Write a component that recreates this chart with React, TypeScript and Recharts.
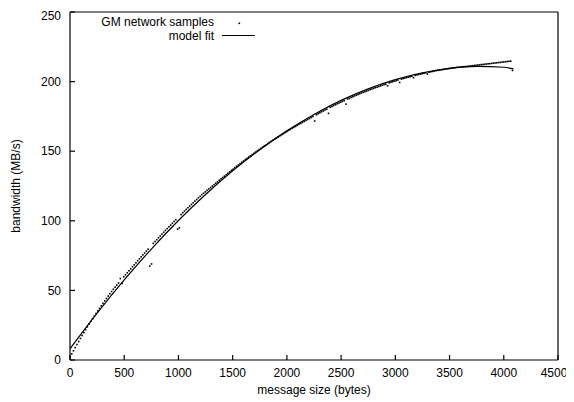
import { ComposedChart, XAxis, YAxis, Scatter, Line } from "recharts";

// GM samples are taken every 16 bytes, starting at 0
const sampleStep = 16;

const sampleBandwidth = [
  2.0, 4.3, 6.6, 8.9, 11.1, 13.3, 15.5, 17.6, 19.7, 21.8, 23.8, 25.8, 27.7, 29.6, 31.5, 33.4,
  35.3, 37.1, 38.9, 40.7, 42.5, 44.2, 45.9, 47.6, 49.2, 50.8, 52.3, 53.8, 55.3, 58.5, 55.0, 59.8,
  61.2, 62.7, 64.1, 65.5, 67.0, 68.4, 69.8, 71.3, 72.7, 74.1, 75.5, 76.9, 78.3, 79.6, 67.5, 69.0,
  83.8, 85.1, 86.4, 87.8, 89.1, 90.4, 91.8, 93.1, 94.4, 95.7, 96.9, 98.2, 99.5, 100.8, 94.0, 95.0,
  104.5, 105.8, 107.0, 108.2, 109.4, 110.6, 111.8, 113.0, 114.2, 115.3, 116.5, 117.6, 118.8, 119.8, 120.8, 121.9,
  122.9, 123.9, 125.0, 126.0, 127.0, 128.0, 129.1, 130.1, 131.1, 132.1, 133.1, 134.2, 135.2, 136.2, 137.1, 138.2,
  139.2, 140.1, 141.1, 142.1, 143.0, 144.0, 144.9, 145.8, 146.7, 147.6, 148.5, 149.4, 150.3, 151.2, 152.0, 152.9,
  153.8, 154.6, 155.5, 156.3, 157.1, 157.9, 158.7, 159.5, 160.3, 161.1, 161.9, 162.6, 163.4, 164.1, 164.9, 165.6,
  166.4, 167.1, 167.8, 168.5, 169.3, 170.0, 170.7, 171.4, 172.1, 172.8, 173.5, 174.2, 174.9, 171.7, 176.2, 176.9,
  177.6, 178.3, 178.9, 179.6, 180.2, 177.2, 181.5, 182.1, 182.8, 183.4, 184.0, 184.6, 185.2, 185.8, 186.3, 183.8,
  187.5, 188.0, 188.6, 189.1, 189.7, 190.2, 190.7, 191.3, 191.8, 192.3, 192.8, 193.2, 193.7, 194.2, 194.7, 195.1,
  195.6, 196.0, 196.5, 196.9, 197.4, 197.8, 198.2, 197.0, 199.1, 199.5, 199.9, 200.3, 200.7, 201.1, 199.4, 201.8,
  202.2, 202.5, 202.9, 203.2, 203.5, 203.9, 202.8, 204.5, 204.8, 205.1, 205.4, 205.7, 206.0, 206.3, 205.4, 206.8,
  207.1, 207.3, 207.6, 207.9, 208.1, 208.3, 208.5, 208.7, 208.9, 209.1, 209.3, 209.5, 209.7, 209.8, 210.0, 210.2,
  210.3, 210.4, 210.6, 210.7, 210.8, 211.0, 211.1, 211.3, 211.4, 211.6, 211.7, 211.9, 212.0, 212.2, 212.3, 212.5,
  212.6, 212.8, 212.9, 213.1, 213.2, 213.4, 213.5, 213.7, 213.8, 214.0, 214.1, 214.3, 214.4, 214.6, 214.7, 208.0,
];

const modelBytes = [0, 250, 500, 750, 1000, 1250, 1500, 1750, 2000, 2250, 2500, 2750, 3000, 3250, 3500, 3750, 4000, 4090];
const modelBandwidth = [8.0, 33.6, 57.5, 79.7, 100.2, 118.9, 135.9, 151.1, 164.6, 176.4, 186.5, 194.8, 201.4, 206.3, 209.5, 210.9, 210.3, 209.2];

const xTicks = [0, 500, 1000, 1500, 2000, 2500, 3000, 3500, 4000, 4500];
const yTicks = [0, 50, 100, 150, 200, 250];

const samples = sampleBandwidth.map((y, i) => ({ x: i * sampleStep, y }));
const model = modelBytes.map((x, i) => ({ x, y: modelBandwidth[i] }));

const font = '"Liberation Sans", Arial, Helvetica, sans-serif';
const tickStyle = { fill: "#000", fontSize: 12, fontFamily: font };
const frame = { stroke: "#000", strokeWidth: 1.2 };

const SampleDot = (props: any) => {
  const { cx, cy } = props;
  if (cx == null || cy == null) return null;
  return <rect x={cx - 0.8} y={cy - 0.8} width={1.6} height={1.6} fill="#000" />;
};

const App = () => {
  return (
    <div style={{ position: "relative", width: 558, height: 394, fontFamily: font }}>
      <ComposedChart width={558} height={394} margin={{ top: 3, right: 7, bottom: 0, left: 0 }}>
        <XAxis
          xAxisId="b"
          type="number"
          dataKey="x"
          domain={[0, 4500]}
          ticks={xTicks}
          height={42}
          tickSize={-5}
          tickMargin={13}
          axisLine={frame}
          tickLine={frame}
          tick={tickStyle}
          allowDataOverflow
          label={{ value: "message size (bytes)", position: "insideBottom", offset: 8, fill: "#000", fontSize: 12 }}
        />
        <XAxis
          xAxisId="t"
          orientation="top"
          type="number"
          dataKey="x"
          domain={[0, 4500]}
          ticks={xTicks}
          height={1}
          tickSize={-5}
          axisLine={frame}
          tickLine={frame}
          tick={false}
          allowDataOverflow
        />
        <YAxis
          yAxisId="l"
          type="number"
          dataKey="y"
          domain={[0, 250]}
          ticks={yTicks}
          width={62}
          tickSize={-5}
          tickMargin={14}
          axisLine={frame}
          tickLine={frame}
          tick={tickStyle}
          allowDataOverflow
          label={{
            value: "bandwidth (MB/s)",
            angle: -90,
            position: "insideLeft",
            offset: 8,
            fill: "#000",
            fontSize: 12,
            style: { textAnchor: "middle" },
          }}
        />
        <YAxis
          yAxisId="r"
          orientation="right"
          type="number"
          dataKey="y"
          domain={[0, 250]}
          ticks={yTicks}
          width={1}
          tickSize={-5}
          axisLine={frame}
          tickLine={frame}
          tick={false}
          allowDataOverflow
        />
        <Scatter
          xAxisId="b"
          yAxisId="l"
          data={samples}
          dataKey="y"
          shape={SampleDot}
          isAnimationActive={false}
        />
        <Line
          xAxisId="b"
          yAxisId="l"
          data={model}
          dataKey="y"
          type="monotone"
          stroke="#000"
          strokeWidth={1.2}
          dot={false}
          activeDot={false}
          isAnimationActive={false}
        />
      </ComposedChart>
      <svg width={300} height={40} style={{ position: "absolute", left: 0, top: 0 }}>
        <text x={206} y={18} textAnchor="end" fontSize={12} fill="#000">GM network samples</text>
        <rect x={230.5} y={14.5} width={1.6} height={1.6} fill="#000" />
        <text x={206} y={31.5} textAnchor="end" fontSize={12} fill="#000">model fit</text>
        <line x1={214} x2={247} y1={27.5} y2={27.5} stroke="#000" strokeWidth={1.2} />
      </svg>
    </div>
  );
};

export default App;
